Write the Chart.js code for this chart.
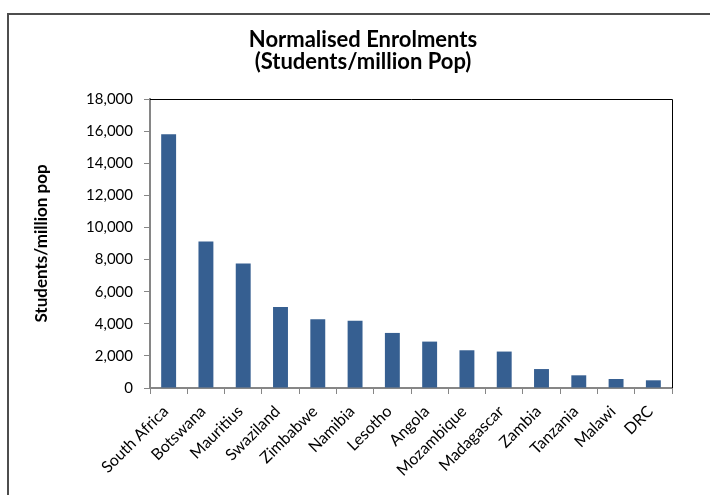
<!DOCTYPE html>
<html>
<head>
<meta charset="utf-8">
<script src="https://cdn.jsdelivr.net/npm/chart.js@4"></script>
<style>
  html, body { margin: 0; padding: 0; background: #ffffff; }
  #wrap { width: 710px; height: 495px; position: relative; }
</style>
</head>
<body>
<div id="wrap"><canvas id="c" width="710" height="495"></canvas></div>
<script>
// Enrolments per million population, by country
const countries = ['South Africa', 'Botswana', 'Mauritius', 'Swaziland', 'Zimbabwe', 'Namibia', 'Lesotho',
  'Angola', 'Mozambique', 'Madagascar', 'Zambia', 'Tanzania', 'Malawi', 'DRC'];
const studentsPerMillion = [15800, 9130, 7760, 5040, 4280, 4190, 3430, 2890, 2350, 2270, 1180, 790, 560, 480];
const titleLines = ['Normalised Enrolments', '(Students/million Pop)'];
const yAxisLabel = 'Students/million pop';
const yMin = 0, yMax = 18000, yStep = 2000;

const FONT = "Lato, 'Open Sans', sans-serif";

// Outer frame, plot border (top/right) and the two-line title
const decorations = {
  id: 'decorations',
  beforeDraw(chart) {
    const ctx = chart.ctx;
    ctx.save();
    ctx.fillStyle = '#ffffff';
    ctx.fillRect(0, 0, chart.width, chart.height);
    ctx.restore();
  },
  afterDraw(chart) {
    const ctx = chart.ctx;
    const a = chart.chartArea;
    ctx.save();
    // chart frame
    ctx.strokeStyle = '#4d4d4d';
    ctx.lineWidth = 2;
    ctx.strokeRect(8, 14, chart.width + 20, chart.height + 20);
    // plot area border on top and right
    ctx.strokeStyle = '#000000';
    ctx.lineWidth = 1;
    ctx.beginPath();
    ctx.moveTo(a.left, a.top + 0.5);
    ctx.lineTo(a.right + 0.5, a.top + 0.5);
    ctx.lineTo(a.right + 0.5, a.bottom);
    ctx.stroke();
    // title
    ctx.fillStyle = '#000000';
    ctx.font = 'bold 22px ' + FONT;
    ctx.textAlign = 'center';
    ctx.textBaseline = 'middle';
    ctx.fillText(titleLines[0], 363, 40);
    ctx.fillText(titleLines[1], 363, 62);
    ctx.restore();
  }
};

new Chart(document.getElementById('c'), {
  type: 'bar',
  data: {
    labels: countries,
    datasets: [{
      data: studentsPerMillion,
      backgroundColor: '#365F91',
      borderWidth: 0,
      barPercentage: 0.4,
      categoryPercentage: 1.0
    }]
  },
  options: {
    responsive: false,
    animation: false,
    devicePixelRatio: 1,
    layout: { padding: { left: 0, top: 99, right: 38, bottom: 0 } },
    plugins: {
      legend: { display: false },
      title: { display: false },
      tooltip: { enabled: false }
    },
    scales: {
      x: {
        afterFit(scale) { scale.height = 107; },
        grid: {
          display: true,
          offset: true,
          drawOnChartArea: false,
          drawTicks: true,
          tickLength: 6,
          color: '#868686',
          lineWidth: 1
        },
        border: { display: true, color: '#868686', width: 2 },
        ticks: {
          color: '#000000',
          font: { family: FONT, size: 16 },
          minRotation: 45,
          maxRotation: 45,
          autoSkip: false,
          padding: 8,
          labelOffset: -3
        }
      },
      y: {
        min: yMin,
        max: yMax,
        afterFit(scale) { scale.width = 150; },
        grid: {
          display: true,
          drawOnChartArea: false,
          drawTicks: true,
          tickLength: 6,
          color: '#868686',
          lineWidth: 1
        },
        border: { display: true, color: '#868686', width: 2 },
        ticks: {
          stepSize: yStep,
          color: '#000000',
          font: { family: FONT, size: 15 },
          padding: 11,
          callback: v => v.toLocaleString('en-US')
        },
        title: {
          display: true,
          text: yAxisLabel,
          color: '#000000',
          font: { family: FONT, size: 17, weight: 'bold' },
          padding: { top: 31, bottom: 0 }
        }
      }
    }
  },
  plugins: [decorations]
});
</script>
</body>
</html>
